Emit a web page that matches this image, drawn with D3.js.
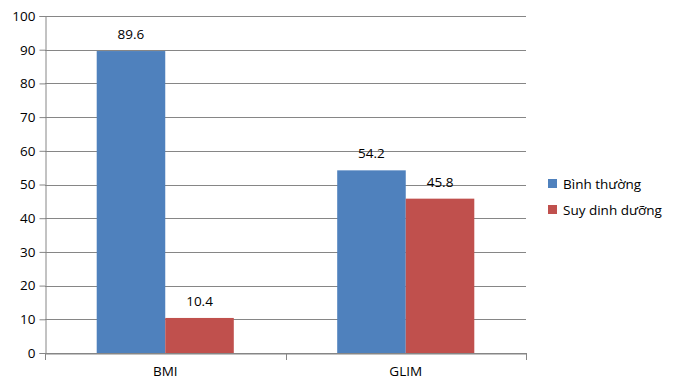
<!DOCTYPE html>
<html>
<head>
<meta charset="utf-8">
<script src="https://cdn.jsdelivr.net/npm/d3@7"></script>
<style>
  body { margin: 0; background: #fff; }
  text { font-family: "Open Sans", "Liberation Sans", sans-serif; fill: #000; }
</style>
</head>
<body>
<svg id="chart" width="677" height="392"></svg>
<script>
const categories = ["BMI", "GLIM"];
const seriesNames = ["Bình thường", "Suy dinh dưỡng"];
const binhThuong = [89.6, 54.2];
const suyDinhDuong = [10.4, 45.8];
const yTicks = [0, 10, 20, 30, 40, 50, 60, 70, 80, 90, 100];
const colors = ["#4F81BD", "#C0504D"];

const svg = d3.select("#chart");
const margin = { top: 16, right: 151, bottom: 39, left: 45 };
const width = 677 - margin.left - margin.right,
      height = 392 - margin.top - margin.bottom;
const g = svg.append("g").attr("transform", `translate(${margin.left},${margin.top})`);

const x0 = d3.scaleBand().domain(categories).range([0, width]).paddingInner(0).paddingOuter(0);
const x1 = d3.scaleBand().domain(seriesNames).range([x0.bandwidth() * 0.215, x0.bandwidth() * 0.785]);
const y = d3.scaleLinear().domain([0, 100]).range([height, 0]);

// gridlines
g.append("g").selectAll("line").data(yTicks).join("line")
  .attr("x1", 0).attr("x2", width)
  .attr("y1", d => Math.round(y(d)) + 0.5).attr("y2", d => Math.round(y(d)) + 0.5)
  .attr("stroke", "#868686").attr("stroke-width", 1);

// y axis
const yAxis = g.append("g").attr("transform", "translate(0.5,0)")
  .call(d3.axisLeft(y).tickValues(yTicks).tickSize(6).tickPadding(4));
yAxis.selectAll("path, line").attr("stroke", "#868686");
yAxis.selectAll("text").attr("font-size", 13.5).attr("fill", "#000");

// x axis
const xAxis = g.append("g").attr("transform", `translate(0,${height + 0.5})`)
  .call(d3.axisBottom(x0).tickSize(0).tickPadding(13));
xAxis.select(".domain").attr("stroke", "#868686");
xAxis.selectAll("text").attr("font-size", 13.5).attr("fill", "#000");
g.append("g").selectAll("line").data([0, width / 2, width]).join("line")
  .attr("x1", d => Math.round(d) + 0.5).attr("x2", d => Math.round(d) + 0.5)
  .attr("y1", height).attr("y2", height + 7)
  .attr("stroke", "#868686");

const data = categories.map((c, i) => ({
  cat: c,
  values: [
    { name: seriesNames[0], value: binhThuong[i], color: colors[0] },
    { name: seriesNames[1], value: suyDinhDuong[i], color: colors[1] }
  ]
}));

const groups = g.append("g").selectAll("g").data(data).join("g")
  .attr("transform", d => `translate(${x0(d.cat)},0)`);

groups.selectAll("rect").data(d => d.values).join("rect")
  .attr("x", d => x1(d.name))
  .attr("y", d => y(d.value))
  .attr("width", x1.bandwidth())
  .attr("height", d => height - y(d.value))
  .attr("fill", d => d.color);

groups.selectAll("text.val").data(d => d.values).join("text")
  .attr("class", "val")
  .attr("x", d => x1(d.name) + x1.bandwidth() / 2)
  .attr("y", d => y(d.value) - 12)
  .attr("text-anchor", "middle")
  .attr("font-size", 13.5)
  .text(d => d.value.toFixed(1));

// legend
const legend = svg.append("g").attr("transform", "translate(548,179)");
seriesNames.forEach((n, i) => {
  const row = legend.append("g").attr("transform", `translate(0,${i * 26})`);
  row.append("rect").attr("width", 9).attr("height", 9).attr("fill", colors[i]);
  row.append("text").attr("x", 15).attr("y", 9.5).attr("font-size", 13.5).text(n);
});
</script>
</body>
</html>
